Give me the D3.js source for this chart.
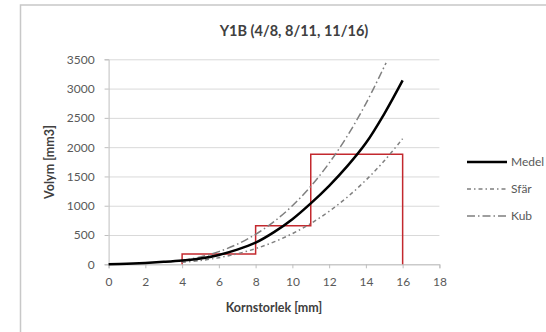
<!DOCTYPE html>
<html lang="en">
<head>
    <meta charset="UTF-8">
    <title>Y1B</title>
    <script src="https://d3js.org/d3.v7.min.js"></script>
    <style>
        body { margin: 0; background: #fff; font-family: Lato, "Open Sans", sans-serif; }
        #vis { display: block; }
    </style>
</head>
<body>
    <svg id="vis"></svg>
    <script>
        const width = 546;
        const height = 332;

        // grain size [mm]
        const sizes = [0, 1, 2, 3, 4, 5, 6, 7, 8, 9, 10, 11, 12, 13, 14, 15, 16];
        // volume [mm3]
        const medel = [0, 10, 24, 42, 65, 100, 160, 250, 370, 550, 770, 1040, 1340, 1680, 2070, 2570, 3140];
        const sfarSizes = [4, 5, 6, 7, 8, 9, 10, 11, 12, 13, 14, 15, 16];
        const sfar = [34, 65, 113, 180, 268, 382, 524, 697, 905, 1150, 1437, 1767, 2145];
        const kubSizes = [4, 5, 6, 7, 8, 9, 10, 11, 12, 13, 14, 15, 15.1];
        const kub = [64, 125, 216, 343, 512, 729, 1000, 1331, 1728, 2197, 2744, 3375, 3440];
        // sieve fractions 4/8, 8/11, 11/16
        const stepX = [4, 4, 8, 8, 11, 11, 16, 16];
        const stepY = [0, 176, 176, 659, 659, 1881, 1881, 0];

        const xTicks = [0, 2, 4, 6, 8, 10, 12, 14, 16, 18];
        const yTicks = [0, 500, 1000, 1500, 2000, 2500, 3000, 3500];
        const legendNames = ["Medel", "Sfär", "Kub"];

        const svg = d3.select("#vis").attr("width", width).attr("height", height);

        // chart frame
        svg.append("rect")
            .attr("x", 20.5).attr("y", 5)
            .attr("width", 600).attr("height", 400)
            .attr("fill", "#fff")
            .attr("stroke", "#c8c8c8")
            .attr("stroke-width", 1.5);

        const x = d3.scaleLinear().domain([0, 18]).range([108.6, 439.4]);
        const y = d3.scaleLinear().domain([0, 3500]).range([264.3, 59.3]);

        // gridlines
        svg.append("g")
            .attr("transform", `translate(${x(0)},0)`)
            .call(d3.axisLeft(y).tickValues(yTicks).tickSize(-(x(18) - x(0))).tickFormat(""))
            .call(g => g.select(".domain").remove())
            .call(g => g.selectAll("line").attr("stroke", "#d9d9d9"));

        // y axis
        svg.append("g")
            .attr("transform", `translate(${x(0)},0)`)
            .call(d3.axisLeft(y).tickValues(yTicks).tickSize(4).tickPadding(10).tickFormat(d3.format("d")))
            .call(g => g.select(".domain").attr("stroke", "#bfbfbf"))
            .call(g => g.selectAll("line").attr("stroke", "#bfbfbf"))
            .call(g => g.selectAll("text")
                .attr("fill", "#595959")
                .attr("font-size", 12)
                .attr("font-family", "Lato, sans-serif"));

        // x axis
        svg.append("g")
            .attr("transform", `translate(0,${y(0)})`)
            .call(d3.axisBottom(x).tickValues(xTicks).tickSize(4).tickPadding(9))
            .call(g => g.select(".domain").attr("stroke", "#bfbfbf"))
            .call(g => g.selectAll("line").attr("stroke", "#bfbfbf"))
            .call(g => g.selectAll("text")
                .attr("fill", "#595959")
                .attr("font-size", 12)
                .attr("font-family", "Lato, sans-serif"));

        const plot = svg.append("g");

        // fractions (red steps)
        plot.append("path")
            .datum(stepX.map((d, i) => [d, stepY[i]]))
            .attr("d", d3.line().x(d => x(d[0])).y(d => y(d[1])))
            .attr("fill", "none")
            .attr("stroke", "#c3292e")
            .attr("stroke-width", 1.5);

        const curve = d3.line().x(d => x(d[0])).y(d => y(d[1])).curve(d3.curveCatmullRom);

        plot.append("path")
            .datum(sfarSizes.map((d, i) => [d, sfar[i]]))
            .attr("d", curve)
            .attr("fill", "none")
            .attr("stroke", "#7f7f7f")
            .attr("stroke-width", 1.5)
            .attr("stroke-dasharray", "4,3,1.5,3");

        plot.append("path")
            .datum(kubSizes.map((d, i) => [d, kub[i]]))
            .attr("d", curve)
            .attr("fill", "none")
            .attr("stroke", "#7f7f7f")
            .attr("stroke-width", 1.5)
            .attr("stroke-dasharray", "8,3,1.5,3");

        plot.append("path")
            .datum(sizes.map((d, i) => [d, medel[i]]))
            .attr("d", curve)
            .attr("fill", "none")
            .attr("stroke", "#000")
            .attr("stroke-width", 2.5);

        // titles
        svg.append("text")
            .attr("x", 294).attr("y", 36)
            .attr("text-anchor", "middle")
            .attr("font-size", 14.5)
            .attr("font-weight", "bold")
            .attr("fill", "#404040")
            .text("Y1B (4/8, 8/11, 11/16)");

        svg.append("text")
            .attr("x", 274).attr("y", 312)
            .attr("text-anchor", "middle")
            .attr("font-size", 12.5)
            .attr("font-weight", "bold")
            .attr("fill", "#404040")
            .text("Kornstorlek [mm]");

        svg.append("text")
            .attr("transform", "translate(54,162) rotate(-90)")
            .attr("text-anchor", "middle")
            .attr("font-size", 12.5)
            .attr("font-weight", "bold")
            .attr("fill", "#404040")
            .text("Volym [mm3]");

        // legend
        const legendY = [162, 189, 216];
        const legendStyle = [
            { stroke: "#000", w: 2.5, dash: null },
            { stroke: "#7f7f7f", w: 1.5, dash: "4,3,1.5,3" },
            { stroke: "#7f7f7f", w: 1.5, dash: "8,3,1.5,3" }
        ];
        const legend = svg.append("g");
        legendNames.forEach((name, i) => {
            legend.append("line")
                .attr("x1", 467).attr("x2", 507)
                .attr("y1", legendY[i]).attr("y2", legendY[i])
                .attr("stroke", legendStyle[i].stroke)
                .attr("stroke-width", legendStyle[i].w)
                .attr("stroke-dasharray", legendStyle[i].dash);
            legend.append("text")
                .attr("x", 511).attr("y", legendY[i])
                .attr("dy", "0.35em")
                .attr("font-size", 12)
                .attr("fill", "#595959")
                .text(name);
        });
    </script>
</body>
</html>
